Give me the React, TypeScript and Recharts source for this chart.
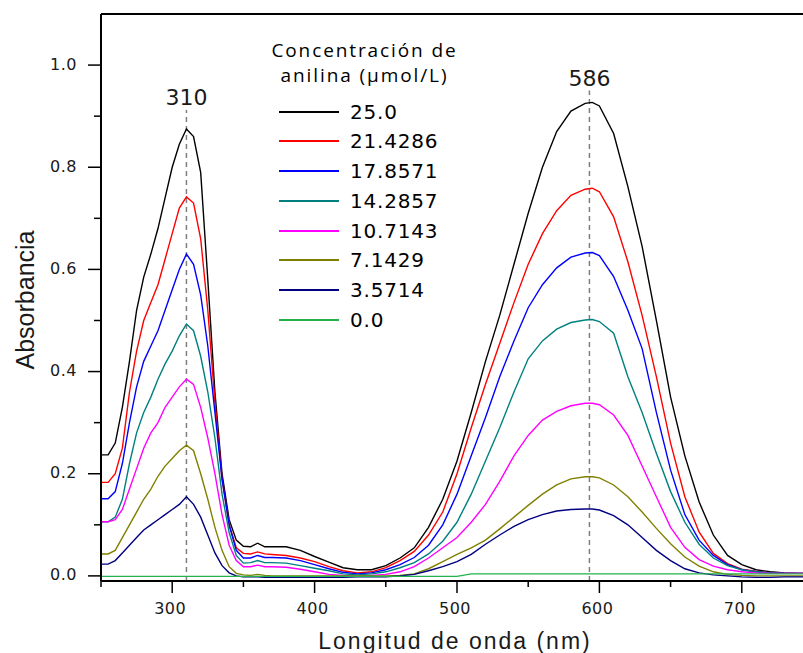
import { LineChart, Line, XAxis, YAxis, ReferenceLine, Legend } from "recharts";

// wavelength (nm)
const wavelengths = [
  250, 255, 260, 265, 270, 275, 280, 285, 290, 295, 300, 305, 310, 315, 320, 325, 330, 335, 340, 345,
  350, 355, 360, 365, 370, 380, 390, 400, 410, 420, 430, 440, 450, 460, 470, 480, 490, 500, 510, 520,
  530, 540, 550, 560, 570, 580, 590, 595, 600, 610, 620, 630, 640, 650, 660, 670, 680, 690, 700, 710,
  720, 730, 740, 750,
];

const abs250 = [
  0.237, 0.237, 0.26, 0.33, 0.42, 0.52, 0.585, 0.63, 0.68, 0.74, 0.8, 0.845, 0.875, 0.86, 0.79, 0.58, 0.36, 0.2, 0.11, 0.07,
  0.058, 0.057, 0.064, 0.057, 0.057, 0.057, 0.05, 0.038, 0.027, 0.016, 0.012, 0.012, 0.02, 0.035, 0.055, 0.095, 0.15, 0.225, 0.32, 0.42,
  0.51, 0.61, 0.71, 0.8, 0.87, 0.91, 0.925, 0.927, 0.92, 0.866, 0.762, 0.645, 0.5, 0.35, 0.235, 0.145, 0.08, 0.04, 0.022, 0.012,
  0.008, 0.006, 0.005, 0.005,
];
const abs214 = [
  0.183, 0.183, 0.2, 0.25, 0.36, 0.44, 0.5, 0.535, 0.57, 0.62, 0.67, 0.72, 0.742, 0.73, 0.66, 0.52, 0.34, 0.19, 0.1, 0.055,
  0.044, 0.043, 0.047, 0.043, 0.042, 0.04, 0.035, 0.028, 0.018, 0.01, 0.006, 0.008, 0.016, 0.03, 0.048, 0.08, 0.125, 0.2, 0.29, 0.375,
  0.455, 0.535, 0.61, 0.67, 0.715, 0.745, 0.757, 0.759, 0.752, 0.703, 0.615, 0.51, 0.39, 0.26, 0.155, 0.086, 0.044, 0.024, 0.013, 0.009,
  0.006, 0.005, 0.005, 0.005,
];
const abs179 = [
  0.151, 0.151, 0.165, 0.22, 0.3, 0.37, 0.42, 0.45, 0.48, 0.52, 0.56, 0.6, 0.63, 0.61, 0.55, 0.45, 0.32, 0.19, 0.1, 0.05,
  0.035, 0.035, 0.04, 0.036, 0.036, 0.035, 0.03, 0.022, 0.014, 0.007, 0.004, 0.006, 0.012, 0.022, 0.036, 0.06, 0.1, 0.16, 0.235, 0.31,
  0.39, 0.46, 0.525, 0.57, 0.603, 0.624, 0.632, 0.633, 0.627, 0.586, 0.52, 0.445, 0.32, 0.207, 0.12, 0.07, 0.04, 0.022, 0.012, 0.008,
  0.006, 0.005, 0.005, 0.005,
];
const abs143 = [
  0.106, 0.106, 0.115, 0.15, 0.22, 0.28, 0.32, 0.35, 0.385, 0.415, 0.44, 0.47, 0.493, 0.48, 0.43, 0.36, 0.27, 0.16, 0.085, 0.04,
  0.025, 0.026, 0.03, 0.026, 0.026, 0.025, 0.02, 0.015, 0.01, 0.004, 0.002, 0.004, 0.008, 0.016, 0.026, 0.043, 0.068, 0.105, 0.16, 0.225,
  0.29, 0.36, 0.425, 0.46, 0.483, 0.496, 0.501, 0.502, 0.498, 0.475, 0.39, 0.32, 0.24, 0.165, 0.105, 0.062, 0.035, 0.02, 0.012, 0.008,
  0.006, 0.005, 0.005, 0.005,
];
const abs107 = [
  0.106, 0.106, 0.11, 0.13, 0.17, 0.21, 0.25, 0.28, 0.3, 0.33, 0.35, 0.37, 0.385, 0.375, 0.33, 0.27, 0.2, 0.12, 0.06, 0.03,
  0.018, 0.018, 0.021, 0.018, 0.018, 0.017, 0.013, 0.008, 0.003, 0.001, 0, 0.001, 0.003, 0.008, 0.018, 0.035, 0.055, 0.075, 0.105, 0.14,
  0.185, 0.235, 0.275, 0.305, 0.322, 0.333, 0.338, 0.338, 0.335, 0.315, 0.275, 0.215, 0.155, 0.095, 0.056, 0.032, 0.019, 0.012, 0.008, 0.006,
  0.005, 0.005, 0.005, 0.005,
];
const abs071 = [
  0.043, 0.043, 0.05, 0.075, 0.1, 0.125, 0.15, 0.17, 0.195, 0.215, 0.23, 0.245, 0.256, 0.245, 0.2, 0.15, 0.095, 0.05, 0.018, 0.005,
  0.002, 0.001, 0.003, 0.001, 0, 0, 0, 0, 0, 0, 0, 0, 0, 0.001, 0.004, 0.014, 0.028, 0.042, 0.055, 0.07,
  0.092, 0.115, 0.138, 0.16, 0.178, 0.19, 0.194, 0.194, 0.192, 0.178, 0.155, 0.125, 0.093, 0.063, 0.037, 0.019, 0.008, 0.003, 0.001, 0,
  0, 0, 0, 0,
];
const abs036 = [
  0.023, 0.023, 0.03, 0.045, 0.06, 0.075, 0.09, 0.1, 0.11, 0.12, 0.13, 0.14, 0.155, 0.14, 0.115, 0.08, 0.045, 0.02, 0.006, 0,
  -0.002, -0.002, -0.002, -0.003, -0.003, -0.003, -0.003, -0.003, -0.003, -0.003, -0.002, -0.002, -0.002, 0, 0.003, 0.01, 0.018, 0.028, 0.042, 0.062,
  0.08, 0.097, 0.11, 0.12, 0.127, 0.13, 0.131, 0.131, 0.129, 0.118, 0.1, 0.075, 0.05, 0.03, 0.014, 0.006, 0.002, 0, -0.002, -0.003,
  -0.003, -0.002, -0.002, -0.002,
];
const abs000 = [
  -0.001, -0.001, -0.001, -0.001, -0.001, -0.001, -0.001, -0.001, -0.001, -0.001, -0.001, -0.001, -0.001, -0.001, -0.001, -0.001, -0.001, -0.001, -0.001, -0.001,
  -0.001, -0.001, -0.001, -0.001, -0.001, -0.001, -0.001, -0.001, -0.001, -0.001, -0.001, -0.001, -0.001, -0.001, -0.001, -0.001, -0.001, -0.001, 0.004, 0.004,
  0.004, 0.004, 0.004, 0.004, 0.004, 0.004, 0.004, 0.004, 0.004, 0.004, 0.004, 0.004, 0.004, 0.004, 0.004, 0.004, 0.004, 0.004, 0.004, 0.004,
  0.004, 0.004, 0.004, 0.004,
];

const seriesNames = ["25.0", "21.4286", "17.8571", "14.2857", "10.7143", "7.1429", "3.5714", "0.0"];
const seriesColors = ["#000000", "#ff0000", "#0000ff", "#008080", "#ff00ff", "#808000", "#000080", "#22b14c"];
const seriesValues = [abs250, abs214, abs179, abs143, abs107, abs071, abs036, abs000];

const xTicks = [250, 300, 350, 400, 450, 500, 550, 600, 650, 700, 750];
const yTicks = [0, 0.1, 0.2, 0.3, 0.4, 0.5, 0.6, 0.7, 0.8, 0.9, 1.0];

const peaks = [
  { x: 310, top: 0.912, label: "310" },
  { x: 593, top: 0.95, label: "586" },
];

const data = wavelengths.map((w, i) => {
  const row: Record<string, number> = { wl: w };
  seriesValues.forEach((vals, j) => {
    row[`s${j}`] = vals[i];
  });
  return row;
});

const tickFont = "'DejaVu Sans', Verdana, sans-serif";

function XTick(props: any) {
  const { x, y, payload } = props;
  const major = payload.value % 100 === 0;
  return (
    <g>
      <line x1={x} x2={x} y1={y} y2={y + (major ? 12 : 6)} stroke="#000" strokeWidth={1.5} />
      {major && (
        <text x={x - 2} y={y + 27} textAnchor="middle" dominantBaseline="central"
          fontSize={16} fontFamily={tickFont} letterSpacing={0.5} fill="#1a1a1a">
          {payload.value}
        </text>
      )}
    </g>
  );
}

function YTick(props: any) {
  const { x, y, payload } = props;
  const major = Math.round(payload.value * 10) % 2 === 0;
  return (
    <g>
      <line x1={x - (major ? 13 : 7)} x2={x} y1={y} y2={y} stroke="#000" strokeWidth={1.5} />
      {major && (
        <text x={x - 24} y={y - 1} textAnchor="end" dominantBaseline="central"
          fontSize={16} fontFamily={tickFont} letterSpacing={0.5} fill="#1a1a1a">
          {payload.value.toFixed(1)}
        </text>
      )}
    </g>
  );
}

function LegendBox() {
  return (
    <div style={{ position: "relative", width: 210, height: 300, color: "#000" }}>
      <div style={{
        position: "absolute", left: 0, top: -2, width: 205, textAlign: "center",
        fontFamily: "'Open Sans', sans-serif", fontSize: 19, lineHeight: "25px", letterSpacing: 1.9,
        whiteSpace: "nowrap",
      }}>
        Concentración de<br />anilina (µmol/L)
      </div>
      {seriesNames.map((name, k) => (
        <div key={name} style={{
          position: "absolute", left: 17, top: 71.7 + k * 29.75 - 15, height: 30,
          display: "flex", alignItems: "center",
        }}>
          <svg width={60} height={4} style={{ display: "block" }}>
            <line x1={0} x2={60} y1={2} y2={2} stroke={seriesColors[k]} strokeWidth={2.2} />
          </svg>
          <span style={{ marginLeft: 11, fontFamily: tickFont, fontSize: 20, letterSpacing: 0.8, lineHeight: "30px" }}>
            {name}
          </span>
        </div>
      ))}
    </div>
  );
}

export default function App() {
  return (
    <div style={{ position: "absolute", left: 0, top: 0, width: 803, height: 653, overflow: "hidden", background: "#fff" }}>
      <LineChart width={813} height={653} data={data} margin={{ top: 14, right: 0, bottom: 0, left: 0 }}>
        <XAxis
          dataKey="wl"
          type="number"
          domain={[250, 750]}
          ticks={xTicks}
          interval={0}
          tickSize={0}
          tickMargin={0}
          tickLine={false}
          tick={<XTick />}
          height={72}
          axisLine={{ stroke: "#000", strokeWidth: 2 }}
          allowDataOverflow
          label={{
            content: () => (
              <text x={455} y={649} textAnchor="middle" fontSize={23}
                fontFamily="'Liberation Sans', Arial, sans-serif" letterSpacing={2} fill="#1a1a1a">
                Longitud de onda (nm)
              </text>
            ),
          }}
        />
        <YAxis
          type="number"
          domain={[-0.01, 1.1]}
          ticks={yTicks}
          interval={0}
          tickSize={0}
          tickMargin={0}
          tickLine={false}
          tick={<YTick />}
          width={101}
          axisLine={{ stroke: "#000", strokeWidth: 2 }}
          allowDataOverflow
          label={{
            content: () => (
              <text x={0} y={0} transform="translate(34 300) rotate(-90)" textAnchor="middle" fontSize={25}
                fontFamily="'Liberation Sans', Arial, sans-serif" fill="#1a1a1a">
                Absorbancia
              </text>
            ),
          }}
        />
        <ReferenceLine y={1.1} stroke="#000" strokeWidth={2} />
        {peaks.map((p) => (
          <ReferenceLine
            key={p.label}
            segment={[{ x: p.x, y: -0.01 }, { x: p.x, y: p.top }]}
            stroke="#7f7f7f"
            strokeWidth={1.5}
            strokeDasharray="5 4"
            label={{ value: p.label, position: "top", offset: 5, fill: "#1a1a1a", fontSize: 22, fontFamily: tickFont }}
          />
        ))}
        {seriesNames.map((name, j) => (
          <Line
            key={name}
            type="linear"
            dataKey={`s${j}`}
            name={name}
            stroke={seriesColors[j]}
            strokeWidth={1.4}
            dot={false}
            isAnimationActive={false}
          />
        ))}
        <Legend
          layout="vertical"
          align="center"
          verticalAlign="middle"
          content={() => <LegendBox />}
          wrapperStyle={{ left: 262, top: 40, width: 210, height: 300 }}
        />
      </LineChart>
    </div>
  );
}
